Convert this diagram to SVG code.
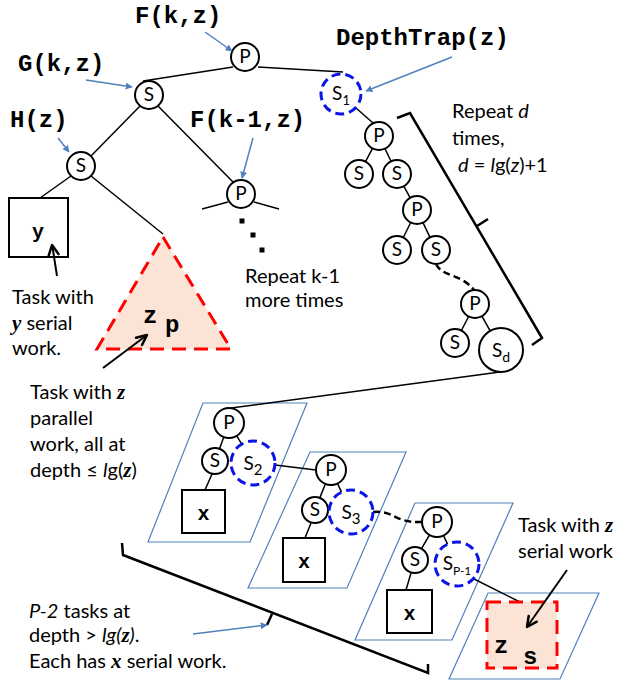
<svg xmlns="http://www.w3.org/2000/svg" width="621" height="685" viewBox="0 0 621 685">
<defs>
<marker id="ab" viewBox="0 0 10 10" refX="9" refY="5" markerWidth="7" markerHeight="7" orient="auto" markerUnits="userSpaceOnUse">
<path d="M0,0 L10,5 L0,10 z" fill="#4f81bd"/>
</marker>
<style>
.n{fill:#fff;stroke:#000;stroke-width:2}
.d{fill:#fff;stroke:#0a14e6;stroke-width:3;stroke-dasharray:9 5}
.t{font-family:Lato,"Liberation Sans",sans-serif;font-size:20px;fill:#000}
.nl{font-family:Lato,"Liberation Sans",sans-serif;font-size:19px;text-anchor:middle}
.c{font-family:"Liberation Mono",monospace;font-weight:bold;font-size:24px}
.cx{font-family:"Liberation Mono",monospace;font-weight:bold;font-size:20px;text-anchor:middle}
.bi{font-family:"Liberation Serif",serif;font-weight:bold;font-style:italic}
.e{stroke:#000;stroke-width:1.5;fill:none}
.ed{stroke:#000;stroke-width:2.5;fill:none;stroke-dasharray:7 4}
.pa{fill:none;stroke:#4f81bd;stroke-width:1.2}
.bl{stroke:#4f81bd;stroke-width:1.5;fill:none;marker-end:url(#ab)}
.bk{stroke:#000;stroke-width:2;fill:none}
.bh{stroke:#000;stroke-width:2.5;fill:none;stroke-linejoin:round;stroke-linecap:round}
.br{stroke:#000;stroke-width:2.5;fill:none}
.red{fill:#fbe4d5;stroke:#ff0000;stroke-width:3;stroke-dasharray:14 8}
</style>
</defs>
<rect width="621" height="685" fill="#fff"/>

<g id="parallelograms">
<polygon class="pa" points="203,403 307,403 250,542 148,542"/>
<polygon class="pa" points="310,452 406,452 347,588 248,588"/>
<polygon class="pa" points="415,503 513,503 452,640 355,640"/>
<polygon class="pa" points="488,593 599,593 560,679 449,679"/>
</g>

<g id="connectors">
<line class="e" x1="233" y1="67" x2="143" y2="81"/>
<line class="e" x1="258" y1="67" x2="343" y2="72"/>
<line class="e" x1="140" y1="106" x2="91" y2="156"/>
<line class="e" x1="158" y1="106" x2="233" y2="182"/>
<line class="e" x1="71" y1="176" x2="40" y2="198"/>
<line class="e" x1="91" y1="176" x2="163" y2="234"/>
<line class="e" x1="202" y1="209" x2="228" y2="202"/>
<line class="e" x1="254" y1="202" x2="279" y2="209"/>
<line class="e" x1="356" y1="108" x2="373" y2="123"/>
<line class="e" x1="372.5" y1="148.4" x2="365.5" y2="161.6"/>
<line class="e" x1="385" y1="148.7" x2="391" y2="161.3"/>
<line class="e" x1="403.8" y1="186.2" x2="410.2" y2="197.8"/>
<line class="e" x1="410.7" y1="222.5" x2="403.3" y2="237.5"/>
<line class="e" x1="423" y1="222.6" x2="430" y2="237.4"/>
<path class="ed" d="M436,264 C442,277 462,274 474,290"/>
<line class="e" x1="468.6" y1="316.5" x2="461.4" y2="330.5"/>
<line class="e" x1="481.9" y1="316.2" x2="490.2" y2="330.8"/>
<line class="e" x1="500" y1="372" x2="231" y2="408"/>
<line class="e" x1="223.8" y1="437.1" x2="219.5" y2="448.8"/>
<line class="e" x1="236.7" y1="435.9" x2="241.7" y2="444.1"/>
<line class="e" x1="212" y1="474" x2="205" y2="490"/>
<line class="e" x1="275" y1="465" x2="316" y2="470"/>
<line class="e" x1="325.4" y1="483.9" x2="319.8" y2="497.9"/>
<line class="e" x1="337.5" y1="483.5" x2="341.5" y2="492.1"/>
<line class="e" x1="311" y1="523" x2="305" y2="538"/>
<path class="ed" d="M373,512 C395,510 393,523 422,522"/>
<line class="e" x1="429.5" y1="535" x2="421.5" y2="548.7"/>
<line class="e" x1="443.5" y1="535.5" x2="447.5" y2="544.1"/>
<line class="e" x1="411" y1="573" x2="406" y2="590"/>
<line class="e" x1="472" y1="578" x2="522" y2="603"/>
<rect x="239.5" y="218.5" width="5" height="5"/>
<rect x="250.5" y="232.5" width="5" height="5"/>
<rect x="259.5" y="247.5" width="5" height="5"/>
</g>

<g id="brackets">
<path class="br" d="M397,118 L410,113 L542,338 L532,345"/>
<path class="br" d="M477,226 L488,219"/>
<path class="br" d="M122,543 L123,555 L428,673 L428,664"/>
<path class="br" d="M272,614 L267,625"/>
</g>

<g id="node-F"><circle class="n" cx="245" cy="57" r="14"/><text class="nl" x="245" y="63">P</text></g>
<g id="node-G"><circle class="n" cx="149" cy="95" r="14"/><text class="nl" x="149" y="101">S</text></g>
<g id="node-H"><circle class="n" cx="81" cy="166" r="14"/><text class="nl" x="81" y="172">S</text></g>
<g id="node-Fk1"><circle class="n" cx="241" cy="194" r="14"/><text class="nl" x="241" y="200">P</text></g>
<g id="node-y"><rect x="9" y="198" width="59" height="59" fill="#fff" stroke="#000" stroke-width="2"/><text class="cx" x="38" y="238">y</text></g>
<g id="node-zp"><polygon class="red" points="163,237 231,349 97,349"/><text class="c" x="143" y="323" font-size="36">z</text><text class="c" x="165" y="332" font-size="26">p</text></g>

<g id="node-S1"><circle class="d" cx="341" cy="94" r="20"/><text class="nl" x="341" y="100">S<tspan font-size="13" dy="5">1</tspan></text></g>
<g id="node-Pa"><circle class="n" cx="379" cy="136" r="14"/><text class="nl" x="379" y="142">P</text></g>
<g id="node-Sa1"><circle class="n" cx="359" cy="174" r="14"/><text class="nl" x="359" y="180">S</text></g>
<g id="node-Sa2"><circle class="n" cx="397" cy="174" r="14"/><text class="nl" x="397" y="180">S</text></g>
<g id="node-Pb"><circle class="n" cx="417" cy="210" r="14"/><text class="nl" x="417" y="216">P</text></g>
<g id="node-Sb1"><circle class="n" cx="397" cy="250" r="14"/><text class="nl" x="397" y="256">S</text></g>
<g id="node-Sb2"><circle class="n" cx="436" cy="250" r="14"/><text class="nl" x="436" y="256">S</text></g>
<g id="node-Pc"><circle class="n" cx="475" cy="304" r="14"/><text class="nl" x="475" y="310">P</text></g>
<g id="node-Sc1"><circle class="n" cx="455" cy="343" r="14"/><text class="nl" x="455" y="349">S</text></g>
<g id="node-Sd"><circle class="n" cx="501" cy="350" r="22"/><text class="nl" x="501" y="357" font-size="20">S<tspan font-size="14" dy="5">d</tspan></text></g>

<g id="node-P1"><circle class="n" cx="229" cy="423" r="15"/><text class="nl" x="229" y="429">P</text></g>
<g id="node-S1b"><circle class="n" cx="215" cy="461" r="13"/><text class="nl" x="215" y="467">S</text></g>
<g id="node-S2"><circle class="d" cx="253" cy="463" r="22"/><text class="nl" x="253" y="470" font-size="21">S<tspan font-size="15" dy="5">2</tspan></text></g>
<g id="node-x1"><rect x="182" y="490" width="43" height="43" fill="#fff" stroke="#000" stroke-width="2"/><text class="cx" x="203.5" y="520">x</text></g>

<g id="node-P2"><circle class="n" cx="331" cy="470" r="15"/><text class="nl" x="331" y="476">P</text></g>
<g id="node-S2b"><circle class="n" cx="315" cy="510" r="13"/><text class="nl" x="315" y="516">S</text></g>
<g id="node-S3"><circle class="d" cx="351" cy="512" r="22"/><text class="nl" x="351" y="519" font-size="21">S<tspan font-size="15" dy="5">3</tspan></text></g>
<g id="node-x2"><rect x="283" y="538" width="42" height="44" fill="#fff" stroke="#000" stroke-width="2"/><text class="cx" x="304" y="568">x</text></g>

<g id="node-P3"><circle class="n" cx="437" cy="522" r="15"/><text class="nl" x="437" y="528">P</text></g>
<g id="node-S3b"><circle class="n" cx="415" cy="560" r="13"/><text class="nl" x="415" y="566">S</text></g>
<g id="node-SP1"><circle class="d" cx="457" cy="564" r="22"/><text class="nl" x="457" y="570" font-size="20">S<tspan font-size="12" dy="5">P-1</tspan></text></g>
<g id="node-x3"><rect x="387" y="590" width="45" height="43" fill="#fff" stroke="#000" stroke-width="2"/><text class="cx" x="409.5" y="620">x</text></g>

<g id="node-zs"><rect class="red" x="487" y="602" width="70" height="66"/><text class="c" x="494" y="653" font-size="38">z</text><text class="c" x="523" y="664" font-size="28">s</text></g>

<g id="arrows">
<line class="bl" x1="205" y1="32" x2="232" y2="51"/>
<line class="bl" x1="86" y1="80" x2="132" y2="87"/>
<line class="bl" x1="58" y1="138" x2="69" y2="152"/>
<line class="bl" x1="253" y1="138" x2="242" y2="178"/>
<line class="bl" x1="452" y1="57" x2="366" y2="91"/>
<line class="bl" x1="193" y1="634" x2="267" y2="625"/>
<line class="bk" x1="57" y1="276" x2="52.5" y2="247"/>
<path class="bh" d="M58.5,254.1 L52,245 L48.7,255.7"/>
<line class="bk" x1="103" y1="368" x2="145" y2="336.5"/>
<path class="bh" d="M142,345 L147,335 L136,337.8"/>
<line class="bk" x1="567" y1="570" x2="528" y2="625.5"/>
<path class="bh" d="M536.8,621.7 L527,627 L528.7,615.9"/>
</g>

<g id="labels">
<text class="c" x="135" y="23">F(k,z)</text>
<text class="c" x="18" y="71">G(k,z)</text>
<text class="c" x="10" y="127">H(z)</text>
<text class="c" x="190" y="127">F(k-1,z)</text>
<text class="c" x="336" y="45">DepthTrap(z)</text>

<text class="t" x="452" y="118">Repeat <tspan font-style="italic">d</tspan></text>
<text class="t" x="452" y="145">times,</text>
<text class="t" x="458" y="172"><tspan font-style="italic">d</tspan> = <tspan font-style="italic">l</tspan>g(<tspan font-style="italic">z</tspan>)+1</text>

<text class="t" x="245" y="283">Repeat k-1</text>
<text class="t" x="245" y="307">more times</text>

<text class="t" x="12" y="304">Task with</text>
<text class="t" x="12" y="330"><tspan class="bi" font-size="21">y</tspan> serial</text>
<text class="t" x="12" y="355">work.</text>

<text class="t" x="30" y="399">Task with <tspan class="bi" font-size="21">z</tspan></text>
<text class="t" x="30" y="425">parallel</text>
<text class="t" x="30" y="451">work, all at</text>
<text class="t" x="30" y="477">depth ≤ <tspan font-style="italic">l</tspan>g(<tspan class="bi" font-size="21">z</tspan>)</text>

<text class="t" x="518" y="532">Task with <tspan class="bi" font-size="21">z</tspan></text>
<text class="t" x="518" y="558">serial work</text>

<text class="t" x="29" y="618"><tspan font-style="italic">P-2</tspan>  tasks at</text>
<text class="t" x="29" y="642">depth &gt; <tspan font-style="italic">lg(</tspan><tspan class="bi" font-size="21">z</tspan><tspan font-style="italic">)</tspan>.</text>
<text class="t" x="29" y="668">Each has <tspan class="bi" font-size="21">x</tspan>  serial work.</text>
</g>
</svg>
